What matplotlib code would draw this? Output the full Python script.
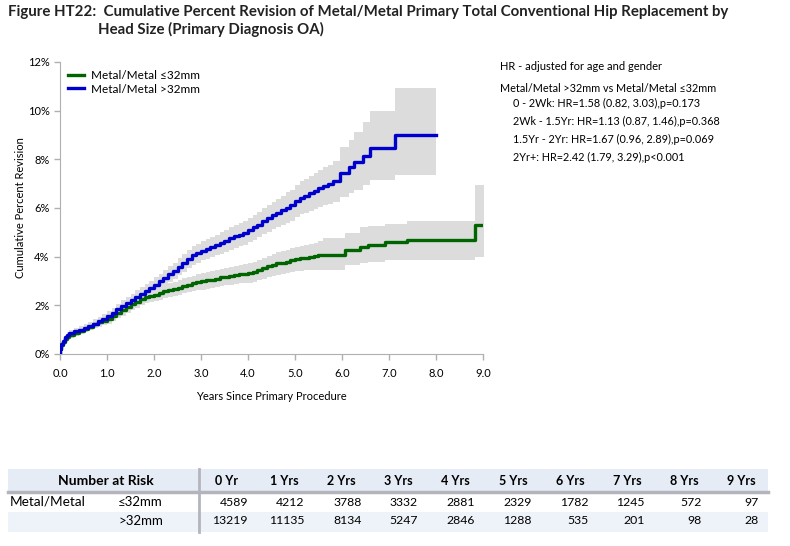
import matplotlib
matplotlib.use("Agg")
import matplotlib.pyplot as plt
from matplotlib.lines import Line2D
from matplotlib.patches import Rectangle

# ---------------- data ----------------
small_t = [0, .01, .03, .06, .1, .15, .2, .3, .4, .5, .6, .7, .8, .9, 1.0,
           1.1, 1.2, 1.3, 1.4, 1.5, 1.6, 1.7, 1.8, 1.9, 2.0, 2.1, 2.2, 2.3, 2.4, 2.5,
           2.6, 2.7, 2.8, 2.9, 3.0, 3.1, 3.2, 3.3, 3.4, 3.5, 3.6, 3.7, 3.8, 3.9, 4.0,
           4.1, 4.2, 4.3, 4.4, 4.5, 4.6, 4.7, 4.8, 4.9, 5.0, 5.1, 5.2, 5.3, 5.4, 5.5,
           5.6, 6.06, 6.38, 6.55, 6.91, 7.38, 8.83, 9.02]
small_v = [0, .2, .35, .5, .62, .7, .78, .88, .96, 1.04, 1.13, 1.22, 1.3, 1.37, 1.45,
           1.55, 1.68, 1.8, 1.92, 2.05, 2.15, 2.28, 2.35, 2.4, 2.44, 2.5, 2.57, 2.63, 2.68, 2.73,
           2.8, 2.85, 2.9, 2.95, 2.98, 3.03, 3.06, 3.1, 3.15, 3.18, 3.22, 3.25, 3.28, 3.3, 3.33,
           3.38, 3.45, 3.52, 3.6, 3.66, 3.72, 3.76, 3.8, 3.86, 3.9, 3.93, 3.96, 3.99, 4.02, 4.05,
           4.07, 4.27, 4.41, 4.48, 4.59, 4.69, 5.3, 5.3]
small_lo = [0, .12, .26, .4, .51, .59, .66, .75, .82, .89, .97, 1.05, 1.12, 1.18, 1.25,
            1.34, 1.46, 1.57, 1.68, 1.8, 1.9, 2.02, 2.09, 2.13, 2.17, 2.22, 2.29, 2.34, 2.39, 2.43,
            2.49, 2.53, 2.58, 2.62, 2.65, 2.69, 2.72, 2.75, 2.79, 2.82, 2.85, 2.87, 2.9, 2.91, 2.93,
            2.97, 3.03, 3.09, 3.16, 3.21, 3.26, 3.29, 3.32, 3.37, 3.4, 3.42, 3.44, 3.45, 3.46, 3.47,
            3.45, 3.66, 3.76, 3.8, 3.86, 3.88, 4.0, 4.0]
small_hi = [0, .28, .44, .6, .73, .81, .9, 1.01, 1.1, 1.19, 1.29, 1.39, 1.48, 1.56, 1.65,
            1.76, 1.9, 2.03, 2.16, 2.3, 2.4, 2.54, 2.61, 2.67, 2.71, 2.78, 2.85, 2.92, 2.97, 3.03,
            3.11, 3.17, 3.22, 3.28, 3.31, 3.37, 3.4, 3.45, 3.51, 3.54, 3.59, 3.63, 3.66, 3.69, 3.73,
            3.79, 3.87, 3.95, 4.04, 4.11, 4.18, 4.23, 4.28, 4.35, 4.4, 4.44, 4.48, 4.53, 4.58, 4.65,
            4.76, 4.96, 5.2, 5.25, 5.34, 5.48, 6.95, 6.95]

large_t = [0, .01, .03, .06, .1, .15, .2, .3, .4, .5, .6, .7, .8, .9, 1.0,
           1.1, 1.2, 1.3, 1.4, 1.5, 1.6, 1.7, 1.8, 1.9, 2.0, 2.1, 2.2, 2.3, 2.4, 2.5,
           2.6, 2.7, 2.8, 2.9, 3.0, 3.1, 3.2, 3.3, 3.4, 3.5, 3.6, 3.7, 3.8, 3.9, 4.0,
           4.1, 4.2, 4.3, 4.4, 4.5, 4.6, 4.7, 4.8, 4.9, 5.0, 5.1, 5.2, 5.3, 5.4, 5.5,
           5.6, 5.7, 5.8, 5.95, 6.15, 6.25, 6.45, 6.6, 7.13, 8.0]
large_v = [0, .2, .4, .55, .68, .78, .85, .93, 1.0, 1.07, 1.15, 1.25, 1.35, 1.45, 1.57,
           1.7, 1.85, 1.98, 2.1, 2.22, 2.35, 2.48, 2.6, 2.72, 2.85, 2.98, 3.12, 3.27, 3.42, 3.58,
           3.74, 3.9, 4.05, 4.15, 4.25, 4.33, 4.4, 4.48, 4.56, 4.65, 4.75, 4.83, 4.9, 4.97, 5.1,
           5.2, 5.32, 5.45, 5.58, 5.7, 5.8, 5.9, 6.02, 6.12, 6.3, 6.42, 6.5, 6.6, 6.7, 6.82,
           6.92, 6.97, 7.1, 7.45, 7.7, 7.9, 8.15, 8.45, 9.0, 9.0]
large_lo = [0, .12, .3, .44, .56, .65, .72, .79, .86, .92, .99, 1.08, 1.17, 1.26, 1.37,
            1.49, 1.63, 1.75, 1.86, 1.97, 2.09, 2.21, 2.32, 2.43, 2.55, 2.67, 2.8, 2.94, 3.08, 3.23,
            3.38, 3.53, 3.67, 3.76, 3.85, 3.92, 3.98, 4.05, 4.12, 4.2, 4.29, 4.36, 4.42, 4.48, 4.6,
            4.69, 4.8, 4.92, 5.03, 5.14, 5.22, 5.3, 5.4, 5.48, 5.65, 5.75, 5.81, 5.88, 5.96, 6.06,
            6.14, 6.17, 6.25, 6.47, 6.6, 6.75, 6.95, 7.15, 7.36, 7.36]
large_hi = [0, .28, .5, .66, .8, .91, .98, 1.07, 1.14, 1.22, 1.31, 1.42, 1.53, 1.64, 1.77,
            1.91, 2.07, 2.21, 2.34, 2.47, 2.61, 2.75, 2.88, 3.01, 3.15, 3.29, 3.44, 3.6, 3.76, 3.93,
            4.1, 4.27, 4.43, 4.54, 4.65, 4.74, 4.82, 4.91, 5.0, 5.1, 5.21, 5.3, 5.38, 5.46, 5.6,
            5.71, 5.84, 5.98, 6.13, 6.26, 6.38, 6.5, 6.64, 6.76, 6.95, 7.09, 7.19, 7.32, 7.44, 7.58,
            7.7, 7.77, 7.95, 8.5, 8.8, 9.14, 9.55, 10.0, 10.93, 10.93]

series_labels = ["Metal/Metal \u226432mm", "Metal/Metal >32mm"]
series_colors = ["#006400", "#0000cc"]

hr_title = "HR - adjusted for age and gender"
hr_compare = "Metal/Metal >32mm vs Metal/Metal \u226432mm"
hr_lines = ["0 - 2Wk: HR=1.58 (0.82, 3.03),p=0.173",
            "2Wk - 1.5Yr: HR=1.13 (0.87, 1.46),p=0.368",
            "1.5Yr - 2Yr: HR=1.67 (0.96, 2.89),p=0.069",
            "2Yr+: HR=2.42 (1.79, 3.29),p<0.001"]

risk_cols = ["0 Yr", "1 Yrs", "2 Yrs", "3 Yrs", "4 Yrs", "5 Yrs", "6 Yrs", "7 Yrs", "8 Yrs", "9 Yrs"]
risk_small = [4589, 4212, 3788, 3332, 2881, 2329, 1782, 1245, 572, 97]
risk_large = [13219, 11135, 8134, 5247, 2846, 1288, 535, 201, 98, 28]

# ---------------- figure ----------------
W, H = 790, 546
fig = plt.figure(figsize=(W / 100, H / 100), dpi=100)

FONT = ["Lato", "DejaVu Sans"]

def px(x, y):
    return x / W, 1 - y / H

ax = fig.add_axes([60 / W, 1 - 354 / H, 423 / W, 292 / H])
groups = [(small_t, small_v, small_lo, small_hi, series_colors[0], series_labels[0]),
          (large_t, large_v, large_lo, large_hi, series_colors[1], series_labels[1])]
for t, v, lo, hi, c, lab in groups:
    ax.fill_between(t, lo, hi, step="post", color="#dcdcdc", lw=0, zorder=1)
for t, v, lo, hi, c, lab in groups:
    ax.plot(t, v, drawstyle="steps-post", color=c, lw=2.4, zorder=3, label=lab)

ax.set_xlim(0, 9)
ax.set_ylim(0, 12)
ax.set_xticks(range(0, 10))
ax.set_xticklabels([f"{i:.1f}" for i in range(10)], fontsize=8, family=FONT)
ax.set_yticks(range(0, 13, 2))
ax.set_yticklabels([f"{i}%" for i in range(0, 13, 2)], fontsize=8, family=FONT)
for s in ["top", "right"]:
    ax.spines[s].set_visible(False)
for s in ["left", "bottom"]:
    ax.spines[s].set_color("#b0b0b0")
ax.tick_params(colors="#b0b0b0", labelcolor="#000000", length=4, width=1)
ax.tick_params(axis="x", pad=6)
ax.set_xlabel("Years Since Primary Procedure", fontsize=8, family=FONT, labelpad=9)
ax.set_ylabel("Cumulative Percent Revision", fontsize=8, family=FONT, labelpad=1)

ax.legend(loc="upper left", bbox_to_anchor=(0.0, 1.0), frameon=False,
          handlelength=1.3, handletextpad=0.6, borderaxespad=0.3, labelspacing=0.2,
          prop={"family": FONT, "size": 8.5})

# title
fig.text(*px(8, 12), "Figure HT22:  Cumulative Percent Revision of Metal/Metal Primary Total Conventional Hip Replacement by",
         fontsize=10.8, fontweight="bold", family=FONT, va="center", ha="left", color="#222222")
fig.text(*px(98, 29), "Head Size (Primary Diagnosis OA)",
         fontsize=10.8, fontweight="bold", family=FONT, va="center", ha="left", color="#222222")

# HR text
fig.text(*px(500, 66), hr_title, fontsize=8, family=FONT, va="center")
fig.text(*px(500, 88), hr_compare, fontsize=7.8, family=FONT, va="center")
for i, s in enumerate(hr_lines):
    fig.text(*px(513, 103 + i * 18), s, fontsize=7.8, family=FONT, va="center")

# table
tx0, tx1 = 8, 768
fig.patches.append(Rectangle(px(tx0, 491), (tx1 - tx0) / W, 22 / H, transform=fig.transFigure,
                             color="#e6ecf5", lw=0, zorder=0))
fig.patches.append(Rectangle(px(tx0, 532), (tx1 - tx0) / W, 20 / H, transform=fig.transFigure,
                             color="#eef2f9", lw=0, zorder=0))
fig.add_artist(Line2D([tx0 / W, tx1 / W], [1 - 492 / H] * 2, color="#b4b4bc", lw=2.5))
fig.add_artist(Line2D([199 / W, 199 / W], [1 - 469 / H, 1 - 532 / H], color="#b4b4bc", lw=2))

fig.text(*px(106, 481), "Number at Risk", fontsize=10, fontweight="bold", family=FONT, ha="center", va="center")
fig.text(*px(10, 502), "Metal/Metal", fontsize=9.8, family=FONT, ha="left", va="center")
fig.text(*px(118, 502), "\u226432mm", fontsize=9.5, family=FONT, ha="left", va="center")
fig.text(*px(118, 521), ">32mm", fontsize=9.5, family=FONT, ha="left", va="center")
for i, (c, a, b) in enumerate(zip(risk_cols, risk_small, risk_large)):
    xh = 227 + i * 57.2
    xr = 248 + i * 56.7
    fig.text(*px(xh, 481), c, fontsize=9, fontweight="bold", family=FONT, ha="center", va="center")
    fig.text(*px(xr, 502), str(a), fontsize=8.8, family=FONT, ha="right", va="center")
    fig.text(*px(xr, 521), str(b), fontsize=8.8, family=FONT, ha="right", va="center")

fig.savefig("out.png", dpi=100)
